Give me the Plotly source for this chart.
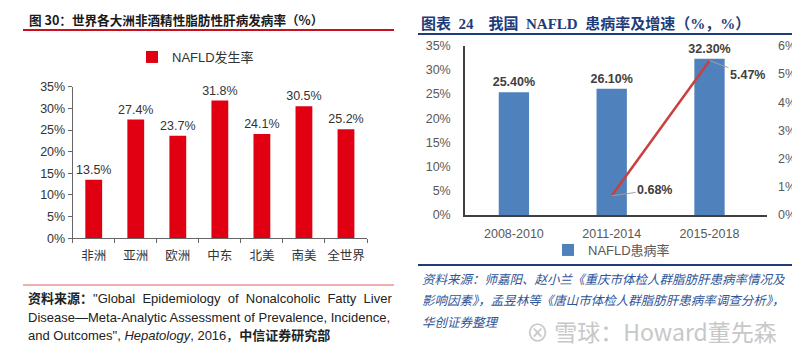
import plotly.graph_objects as go

# ---- data: left chart ----
regions = ["非洲", "亚洲", "欧洲", "中东", "北美", "南美", "全世界"]
incidence = [13.5, 27.4, 23.7, 31.8, 24.1, 30.5, 25.2]
left_ticks = [0, 5, 10, 15, 20, 25, 30, 35]

# ---- data: right chart ----
periods = ["2008-2010", "2011-2014", "2015-2018"]
prevalence = [25.40, 26.10, 32.30]
growth_periods = ["2011-2014", "2015-2018"]
growth = [0.68, 5.47]
right_ticks_left = [0, 5, 10, 15, 20, 25, 30, 35]
right_ticks_right = [0, 1, 2, 3, 4, 5, 6]

# the page body has an 8px default margin; size the figure to fill the rest
OFF = 8
W, H = 800 - OFF, 356 - OFF
def px(x):
    return (x - OFF) / W
def py(y):
    return 1 - (y - OFF) / H

SANS = "Liberation Sans, Arial, Noto Sans CJK SC, sans-serif"
RED = "#E00012"
BLUE = "#4F81BD"
NAVY = "#1F3C7A"

fig = go.Figure()

fig.add_trace(go.Bar(
    x=regions, y=incidence, name="NAFLD发生率",
    xaxis="x", yaxis="y", width=0.4,
    marker=dict(color=RED, line=dict(width=0)),
    texttemplate="%{y:.1f}%", textposition="outside", constraintext="none",
    textfont=dict(size=12.5, color="#333333", family=SANS),
    cliponaxis=False, legend="legend",
))

fig.add_trace(go.Bar(
    x=periods, y=prevalence, name="NAFLD患病率",
    xaxis="x2", yaxis="y2", width=0.31,
    marker=dict(color=BLUE, line=dict(width=0)),
    texttemplate="%{y:.2f}%", textposition="outside", constraintext="none",
    textfont=dict(size=12.5, color="#404040", family=SANS, weight="bold"),
    cliponaxis=False, legend="legend2",
))

fig.add_trace(go.Scatter(
    x=growth_periods, y=growth, xaxis="x2", yaxis="y3",
    mode="lines", line=dict(color="#C8413F", width=2.5),
    showlegend=False, hoverinfo="skip",
))

annotations = []
offsets = [(43, -6), (38, 14)]
for gp, gv, (ax, ay) in zip(growth_periods, growth, offsets):
    annotations.append(dict(
        x=gp, y=gv, xref="x2", yref="y3", text=f"{gv:.2f}%",
        showarrow=True, arrowhead=0, arrowwidth=1, arrowcolor="#A0A0A0",
        ax=ax, ay=ay, font=dict(size=12.5, color="#404040", family=SANS, weight="bold"),
    ))

# titles
annotations.append(dict(
    x=px(27), y=py(20), xref="paper", yref="paper", xanchor="left", yanchor="middle",
    showarrow=False, text="<b>图 30：世界各大洲非酒精性脂肪性肝病发病率（%）</b>",
    font=dict(size=12.6, color="#1a1a1a", family="Noto Sans CJK SC, Liberation Sans"),
))
annotations.append(dict(
    x=px(419), y=py(23), xref="paper", yref="paper", xanchor="left", yanchor="middle",
    showarrow=False, text="<b>图表  24    我国  NAFLD  患病率及增速（%，%）</b>",
    font=dict(size=15, color=NAVY, family="Liberation Serif, Noto Sans CJK SC"),
))

# left source
left_src = [
    "<b>资料来源：</b>\"Global  Epidemiology  of  Nonalcoholic  Fatty  Liver",
    "Disease—Meta-Analytic Assessment of Prevalence, Incidence,",
    "and Outcomes\", <i>Hepatology</i>, 2016，<b>中信证券研究部</b>",
]
for t, yy in zip(left_src, [298, 317, 335]):
    annotations.append(dict(
        x=px(26), y=py(yy), xref="paper", yref="paper", xanchor="left", yanchor="middle",
        showarrow=False, text=t,
        font=dict(size=13, color="#222222", family=SANS),
    ))

# right source
right_src = [
    "<i>资料来源：师嘉阳、赵小兰《重庆市体检人群脂肪肝患病率情况及</i>",
    "<i>影响因素》，孟昱林等《唐山市体检人群脂肪肝患病率调查分析》，</i>",
    "<i>华创证券整理</i>",
]
for t, yy in zip(right_src, [278, 299, 321]):
    annotations.append(dict(
        x=px(420), y=py(yy), xref="paper", yref="paper", xanchor="left", yanchor="middle",
        showarrow=False, text=t,
        font=dict(size=12.5, color="#2F5597", family="Noto Sans CJK SC"),
    ))

# watermark
annotations.append(dict(
    x=px(524), y=py(331), xref="paper", yref="paper", xanchor="left", yanchor="middle",
    showarrow=False, text="⊗ 雪球：Howard董先森",
    font=dict(size=23, color="#C8C8C8", family="Noto Sans CJK SC, DejaVu Sans"),
))

shapes = [
    dict(type="line", xref="paper", yref="paper", x0=px(23), x1=px(394), y0=py(30), y1=py(30),
         line=dict(color="#C8101E", width=1.8)),
    dict(type="line", xref="paper", yref="paper", x0=px(23), x1=px(394), y0=py(285), y1=py(285),
         line=dict(color="#E06060", width=1)),
    dict(type="line", xref="paper", yref="paper", x0=px(418), x1=px(800), y0=py(34), y1=py(34),
         line=dict(color=NAVY, width=2)),
    dict(type="line", xref="paper", yref="paper", x0=px(418), x1=px(800), y0=py(265), y1=py(265),
         line=dict(color=NAVY, width=2)),
]

tickfont_l = dict(size=12.5, color="#333333", family=SANS)
tickfont_r = dict(size=12.5, color="#595959", family=SANS)

def pct_labels(vals):
    return [f"{v}%" for v in vals]

fig.update_layout(
    width=W, height=H, autosize=False,
    margin=dict(l=0, r=0, t=0, b=0, autoexpand=False),
    paper_bgcolor="white", plot_bgcolor="white",
    annotations=annotations, shapes=shapes,
    xaxis=dict(domain=[px(72.7), px(367)], anchor="y", type="category", automargin=False,
               categoryorder="array", categoryarray=regions, tickangle=0,
               showline=True, linecolor="#666666", linewidth=1,
               ticks="outside", tickson="boundaries", ticklen=4, tickcolor="#666666",
               tickfont=tickfont_l, ticklabelstandoff=6, showgrid=False),
    yaxis=dict(domain=[py(238.3), py(86.7)], anchor="x", range=[0, 35], automargin=False,
               tickmode="array", tickvals=left_ticks, ticktext=pct_labels(left_ticks),
               showline=True, linecolor="#666666", linewidth=1,
               ticks="outside", ticklen=4, tickcolor="#666666",
               tickfont=tickfont_l, showgrid=False, zeroline=False),
    xaxis2=dict(domain=[px(465), px(767)], anchor="y2", type="category", automargin=False,
                categoryorder="array", categoryarray=periods, tickangle=0,
                showline=True, linecolor="#404040", linewidth=1.5, ticks="",
                tickfont=tickfont_r, ticklabelstandoff=6, showgrid=False),
    yaxis2=dict(domain=[py(215), py(45.7)], anchor="x2", range=[0, 35], automargin=False,
                tickmode="array", tickvals=right_ticks_left, ticktext=pct_labels(right_ticks_left),
                showline=True, linecolor="#404040", linewidth=1.5, ticks="",
                tickfont=tickfont_r, ticklabelstandoff=10, showgrid=False, zeroline=False),
    yaxis3=dict(overlaying="y2", anchor="x2", side="right", range=[0, 6], automargin=False,
                tickmode="array", tickvals=right_ticks_right, ticktext=pct_labels(right_ticks_right),
                showline=False, ticks="", tickfont=tickfont_r, ticklabelstandoff=10,
                showgrid=False, zeroline=False),
    legend=dict(x=px(132), y=py(57), xanchor="left", yanchor="middle",
                orientation="h", bgcolor="rgba(0,0,0,0)",
                font=dict(size=13, color="#333333", family=SANS)),
    legend2=dict(x=px(548), y=py(250), xanchor="left", yanchor="middle",
                 orientation="h", bgcolor="rgba(0,0,0,0)",
                 font=dict(size=13, color="#595959", family=SANS)),
    showlegend=True,
)

fig.write_html("out.html")
